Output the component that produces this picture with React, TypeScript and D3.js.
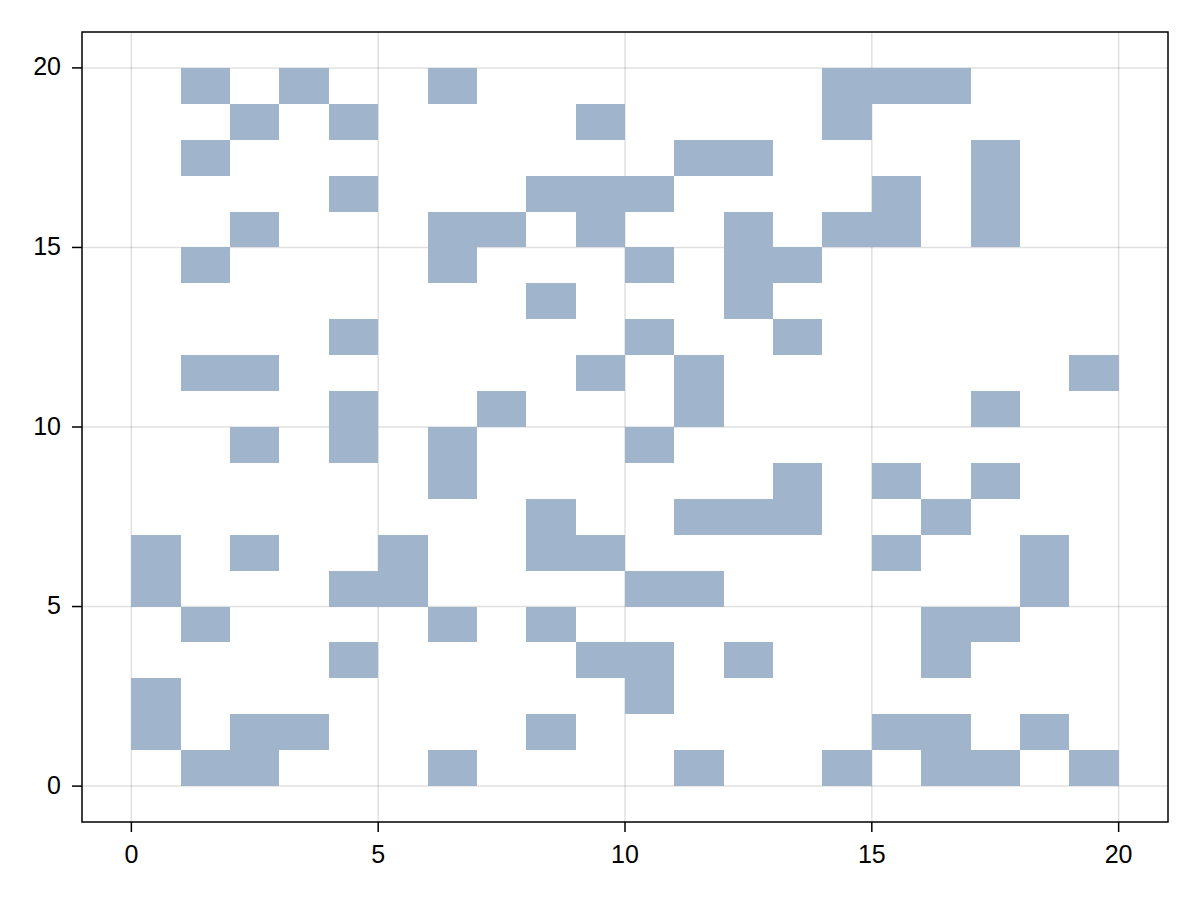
import React from "react";
import * as d3 from "d3";

// Filled cells: for each row y (cell spans y..y+1), the x values (cell spans x..x+1)
const rowY: number[] = [19, 18, 17, 16, 15, 14, 13, 12, 11, 10, 9, 8, 7, 6, 5, 4, 3, 2, 1, 0];
const rowXs: number[][] = [
  [1, 3, 6, 14, 15, 16],
  [2, 4, 9, 14],
  [1, 11, 12, 17],
  [4, 8, 9, 10, 15, 17],
  [2, 6, 7, 9, 12, 14, 15, 17],
  [1, 6, 10, 12, 13],
  [8, 12],
  [4, 10, 13],
  [1, 2, 9, 11, 19],
  [4, 7, 11, 17],
  [2, 4, 6, 10],
  [6, 13, 15, 17],
  [8, 11, 12, 13, 16],
  [0, 2, 5, 8, 9, 15, 18],
  [0, 4, 5, 10, 11, 18],
  [1, 6, 8, 16, 17],
  [4, 9, 10, 12, 16],
  [0, 10],
  [0, 2, 3, 8, 15, 16, 18],
  [1, 2, 6, 11, 14, 16, 17, 19],
];
const xTicks: number[] = [0, 5, 10, 15, 20];
const yTicks: number[] = [0, 5, 10, 15, 20];

const W = 1200;
const H = 900;
const L = 82, R = 1168, T = 32, B = 822;

export default function App() {
  const x = d3.scaleLinear().domain([-1, 21]).range([L, R]);
  const y = d3.scaleLinear().domain([-1, 21]).range([B, T]);
  const cells: { cx: number; cy: number }[] = [];
  rowY.forEach((yy, i) => rowXs[i].forEach((xx) => cells.push({ cx: xx, cy: yy })));
  const font = "'Liberation Sans', Arial, sans-serif";
  return (
    <svg width={W} height={H} style={{ position: "absolute", left: 0, top: 0 }}>
      <rect x={0} y={0} width={W} height={H} fill="#fff" />
      {xTicks.map((t) => (
        <line key={"gx" + t} x1={x(t)} x2={x(t)} y1={T} y2={B} stroke="#000" strokeOpacity={0.12} strokeWidth={1.5} />
      ))}
      {yTicks.map((t) => (
        <line key={"gy" + t} x1={L} x2={R} y1={y(t)} y2={y(t)} stroke="#000" strokeOpacity={0.12} strokeWidth={1.5} />
      ))}
      {cells.map((c, i) => (
        <rect
          key={i}
          x={x(c.cx)}
          y={y(c.cy + 1)}
          width={x(c.cx + 1) - x(c.cx)}
          height={y(c.cy) - y(c.cy + 1)}
          fill="#a0b5cc"
          shapeRendering="crispEdges"
        />
      ))}
      <rect x={L} y={T} width={R - L} height={B - T} fill="none" stroke="#000" strokeWidth={1.5} />
      {xTicks.map((t) => (
        <g key={"tx" + t}>
          <line x1={x(t)} x2={x(t)} y1={B} y2={B + 10} stroke="#000" strokeWidth={1.5} />
          <text x={x(t)} y={863} textAnchor="middle" fontFamily={font} fontSize={25}>{t}</text>
        </g>
      ))}
      {yTicks.map((t) => (
        <g key={"ty" + t}>
          <line x1={L - 10} x2={L} y1={y(t)} y2={y(t)} stroke="#000" strokeWidth={1.5} />
          <text x={L - 21} y={y(t) + 7.5} textAnchor="end" fontFamily={font} fontSize={25}>{t}</text>
        </g>
      ))}
    </svg>
  );
}
